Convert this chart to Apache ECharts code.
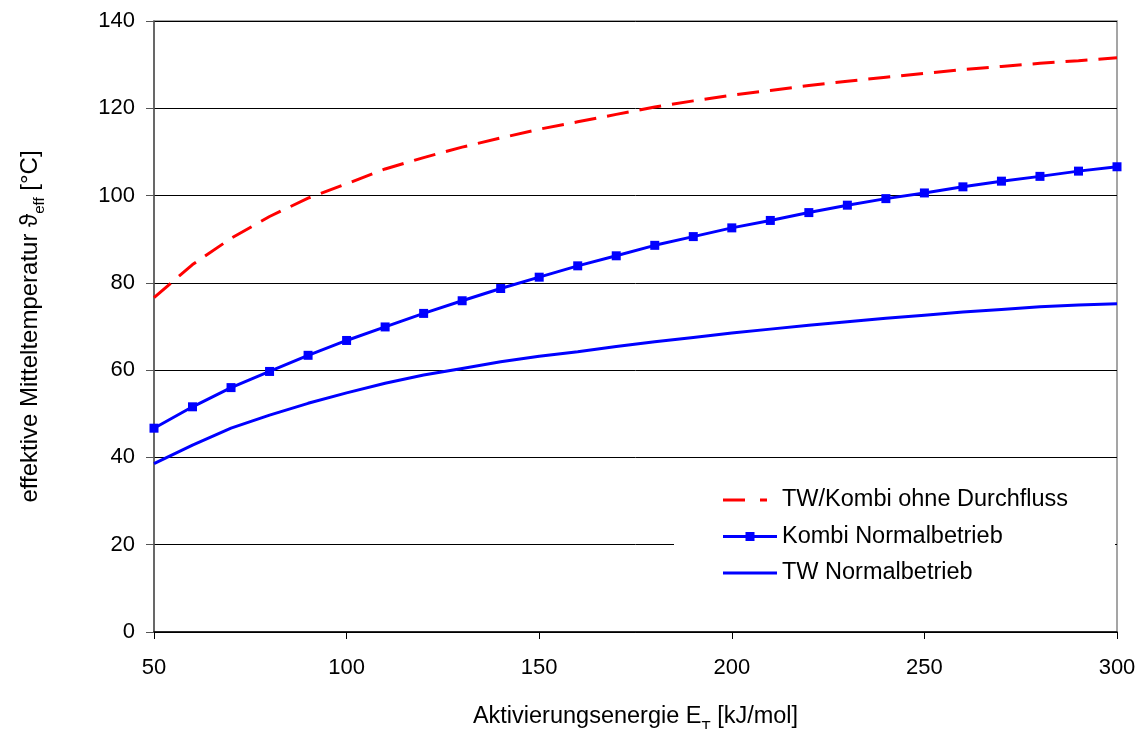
<!DOCTYPE html>
<html>
<head>
<meta charset="utf-8">
<script src="https://cdn.jsdelivr.net/npm/echarts@6/dist/echarts.min.js"></script>
<style>
html,body{margin:0;padding:0;background:#fff;}
#chart{width:1141px;height:729px;}
</style>
</head>
<body>
<div id="chart"></div>
<script>
// Activation energy E_T [kJ/mol]
const energies = [50,60,70,80,90,100,110,120,130,140,150,160,170,180,190,200,210,220,230,240,250,260,270,280,290,300];
// TW/Kombi ohne Durchfluss (red dashed)
const ohneDurchfluss = [76.6,84.2,90.2,95.2,99.4,102.7,106.1,108.7,111.1,113.2,115.2,116.9,118.6,120.3,121.7,123.0,124.1,125.2,126.2,127.1,128.0,128.9,129.6,130.3,130.9,131.6];
// Kombi Normalbetrieb (blue with square markers)
const kombiNormal = [46.7,51.6,56.0,59.7,63.4,66.8,69.9,73.0,75.9,78.7,81.3,83.9,86.2,88.6,90.6,92.6,94.3,96.1,97.8,99.3,100.6,102.0,103.3,104.4,105.6,106.6];
// TW Normalbetrieb (blue solid)
const twNormal = [38.6,42.8,46.7,49.7,52.4,54.8,57.0,58.9,60.4,61.9,63.2,64.2,65.4,66.5,67.5,68.5,69.4,70.3,71.1,71.9,72.6,73.3,73.9,74.5,74.9,75.2];
const yTicks = [0,20,40,60,80,100,120,140];
const xTicks = [50,100,150,200,250,300];
const seriesNames = ['TW/Kombi ohne Durchfluss', 'Kombi Normalbetrieb', 'TW Normalbetrieb'];

const pair = (xs, ys) => xs.map((x, i) => [x, ys[i]]);
const FONT = 'Liberation Sans, Arial, sans-serif';

// legend icon shapes (54 x 10 box; degenerate corner points fix the bounds)
const BOUNDS = 'M0,0L0,0ZM54,10L54,10Z';
const iconDashed = 'path://' + BOUNDS + 'M0,3.5H22V6.5H0ZM37,3.5H44V6.5H37Z';
const iconMarker = 'path://' + BOUNDS + 'M0,3.5H54V6.5H0ZM22.5,0.5H31.5V9.5H22.5Z';
const iconSolid = 'path://' + BOUNDS + 'M0,3.5H54V6.5H0Z';

const chart = echarts.init(document.getElementById('chart'), null, {renderer: 'canvas'});
chart.setOption({
  animation: false,
  backgroundColor: '#fff',
  textStyle: {fontFamily: FONT},
  grid: {left: 154, right: 24, top: 21, bottom: 97, show: true, borderColor: '#888', borderWidth: 1.5,
         containLabel: false, outerBoundsMode: 'none'},
  legend: {
    orient: 'vertical',
    left: 674, top: 462,
    padding: [26, 47, 22, 49],
    backgroundColor: '#fff',
    itemWidth: 54, itemHeight: 10, itemGap: 12.5,
    itemStyle: {borderWidth: 0},
    textStyle: {fontSize: 23.5, color: '#000', fontFamily: FONT, lineHeight: 24, padding: [0,0,0,0]},
    data: [
      {name: seriesNames[0], icon: iconDashed},
      {name: seriesNames[1], icon: iconMarker},
      {name: seriesNames[2], icon: iconSolid}
    ]
  },
  xAxis: {
    type: 'value', min: xTicks[0], max: xTicks[xTicks.length-1], interval: 50,
    name: '{a|Aktivierungsenergie E}{s|T}{a| [kJ/mol]}',
    nameLocation: 'middle', nameGap: 71,
    nameTextStyle: {rich: {
      a: {fontSize: 23.5, color: '#000', fontFamily: FONT, verticalAlign: 'bottom', lineHeight: 26},
      s: {fontSize: 15, color: '#000', fontFamily: FONT, verticalAlign: 'bottom', lineHeight: 18, padding: [0,0,-5,0]}
    }},
    axisLine: {onZero: false, lineStyle: {color: '#000', width: 1.5}},
    axisTick: {show: true, inside: false, length: 7, lineStyle: {color: '#000'}},
    axisLabel: {fontSize: 22, color: '#000', margin: 25, fontFamily: FONT},
    splitLine: {show: false}
  },
  yAxis: {
    type: 'value', min: yTicks[0], max: yTicks[yTicks.length-1], interval: 20,
    name: '{a|effektive Mitteltemperatur ϑ}{s|eff}{a| [°C]}',
    nameLocation: 'middle', nameGap: 112, nameRotate: 90,
    nameTextStyle: {rich: {
      a: {fontSize: 24, color: '#000', fontFamily: FONT, verticalAlign: 'bottom', lineHeight: 26},
      s: {fontSize: 15, color: '#000', fontFamily: FONT, verticalAlign: 'bottom', lineHeight: 18, padding: [0,0,-5,0]}
    }},
    axisLine: {show: true, lineStyle: {color: '#555', width: 1.5}},
    axisTick: {show: true, inside: false, length: 8, lineStyle: {color: '#555'}},
    axisLabel: {fontSize: 22, color: '#000', margin: 19, fontFamily: FONT},
    splitLine: {show: true, lineStyle: {color: '#000', width: 1}}
  },
  series: [
    {
      name: seriesNames[0], type: 'line',
      data: pair(energies, ohneDurchfluss),
      symbol: 'none',
      lineStyle: {color: '#ff0000', width: 3, type: [22, 11]},
      itemStyle: {color: '#ff0000'},
      z: 3
    },
    {
      name: seriesNames[1], type: 'line',
      data: pair(energies, kombiNormal),
      symbol: 'rect', symbolSize: 9, showSymbol: true,
      lineStyle: {color: '#0000ff', width: 3},
      itemStyle: {color: '#0000ff'},
      z: 3
    },
    {
      name: seriesNames[2], type: 'line',
      data: pair(energies, twNormal),
      symbol: 'none',
      lineStyle: {color: '#0000ff', width: 3},
      itemStyle: {color: '#0000ff'},
      z: 3
    }
  ]
});
</script>
</body>
</html>
